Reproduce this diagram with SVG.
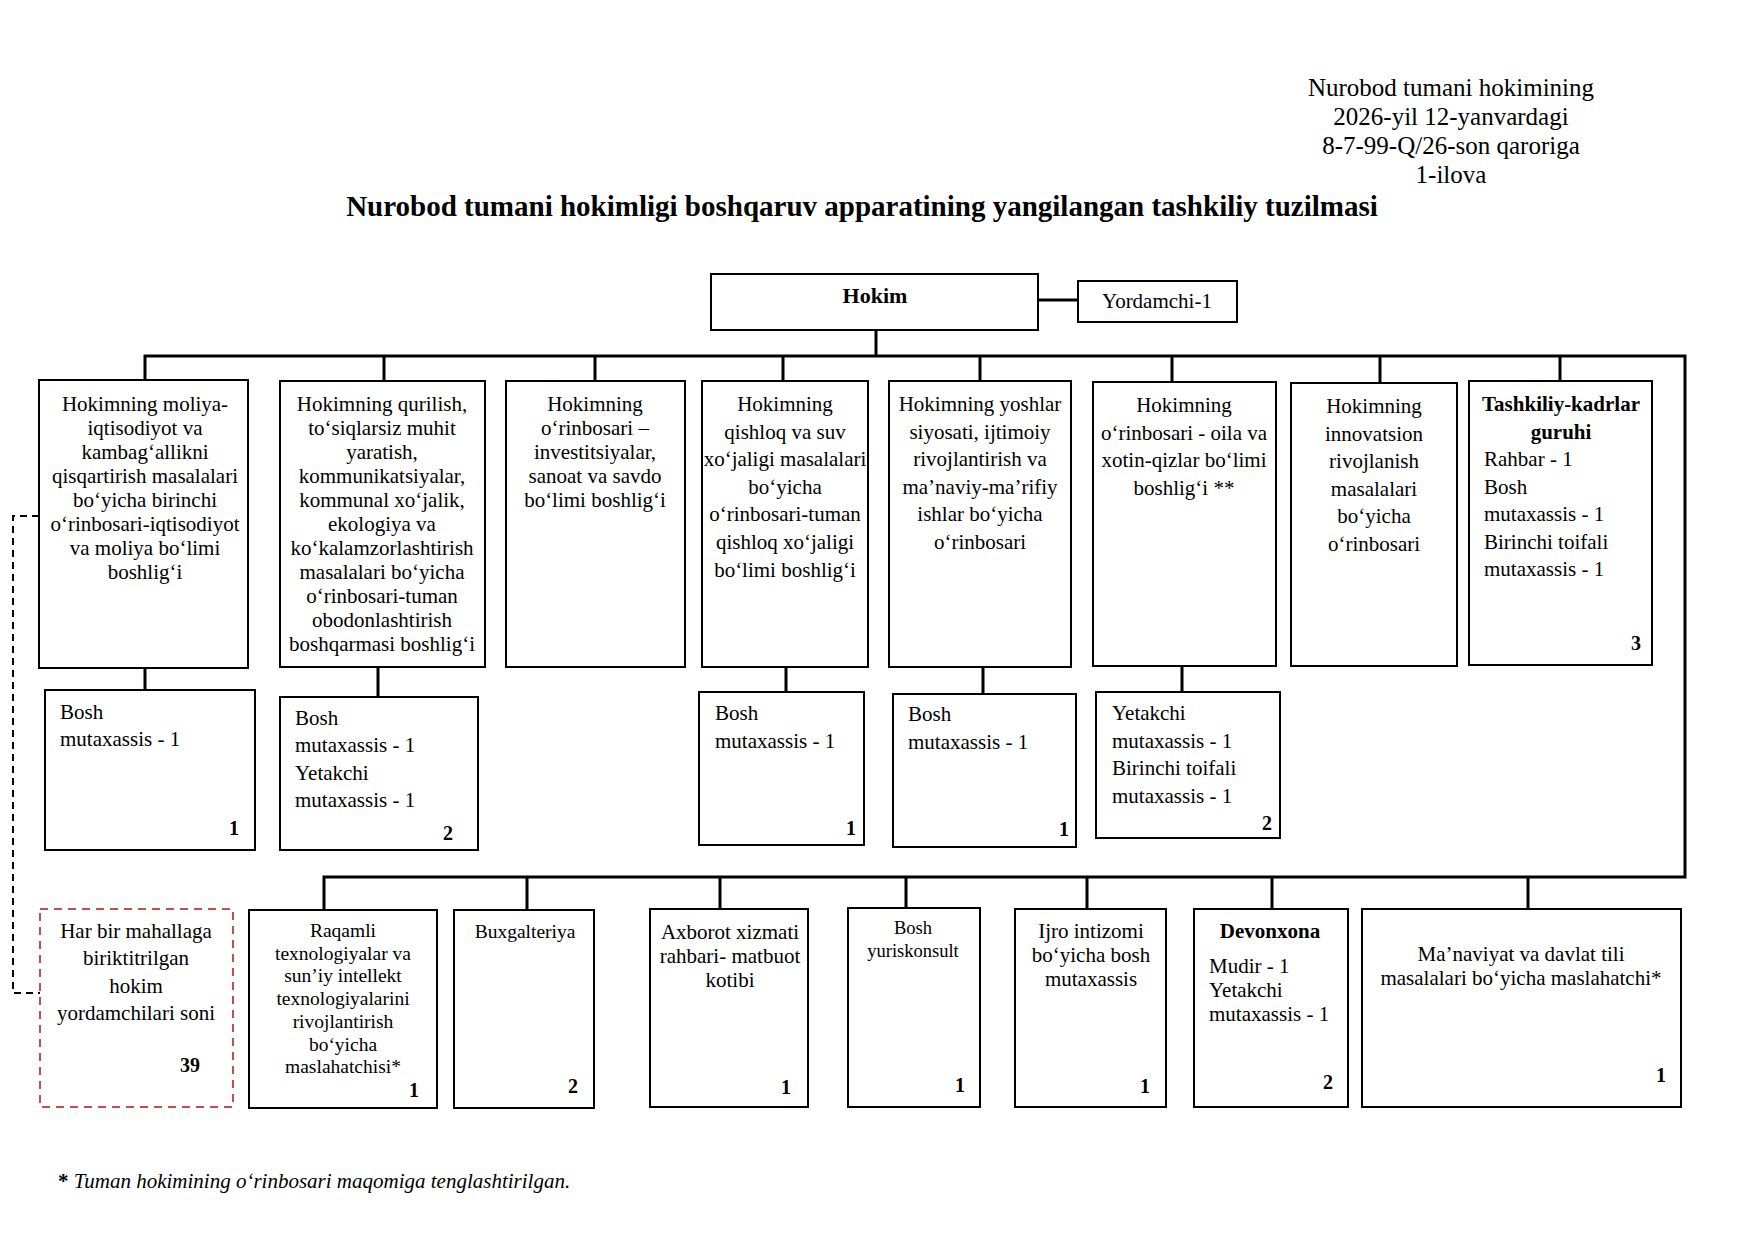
<svg xmlns="http://www.w3.org/2000/svg" width="1754" height="1241" viewBox="0 0 1754 1241">
<style>
.b{fill:#fff;stroke:#000;stroke-width:2}
.c{stroke:#000;stroke-width:3;fill:none}
.t{font-family:"Liberation Serif","Times New Roman",serif;font-size:21px;fill:#000}
.m{text-anchor:middle}
.h{font-size:25px}
.r{font-size:19.5px}
.n{font-family:"Liberation Serif","Times New Roman",serif;font-weight:bold;font-size:20px;text-anchor:end;fill:#000}
.bd{font-weight:bold}
</style>
<rect width="1754" height="1241" fill="#fff"/>
<g id="header">
<text class="t m h" x="1451" y="96">Nurobod tumani hokimining</text>
<text class="t m h" x="1451" y="125">2026-yil 12-yanvardagi</text>
<text class="t m h" x="1451" y="154">8-7-99-Q/26-son qaroriga</text>
<text class="t m h" x="1451" y="183">1-ilova</text>
<text class="t m bd" style="font-size:29px" x="862" y="216">Nurobod tumani hokimligi boshqaruv apparatining yangilangan tashkiliy tuzilmasi</text>
</g>
<g id="connectors">
<path class="c" d="M1038,300H1078"/>
<path class="c" d="M876,330V356"/>
<path class="c" d="M145,380V356H1685V877H324V909"/>
<path class="c" d="M384,356V381M595,356V381M783,356V381M980,356V381M1172,356V382M1380,356V382M1560,356V381"/>
<path class="c" d="M145,668V690M378,667V697M786,667V692M983,667V694M1182,667V692"/>
<path class="c" d="M527,877V909M720,877V909M906,877V908M1087,877V909M1272,877V909M1528,877V909"/>
<path d="M39,516H13V993H40" fill="none" stroke="#000" stroke-width="2" stroke-dasharray="7,5"/>
</g>
<g id="hokim">
<rect class="b" x="711" y="274" width="327" height="56"/>
<text class="t m bd" style="font-size:22px" x="875" y="303">Hokim</text>
</g>
<g id="yordamchi">
<rect class="b" x="1078" y="281" width="159" height="41"/>
<text class="t m" x="1157" y="308">Yordamchi-1</text>
</g>
<g id="top1">
<rect class="b" x="39" y="380" width="209" height="288"/>
<text class="t m" x="145" y="411"><tspan x="145">Hokimning moliya-</tspan><tspan x="145" dy="24">iqtisodiyot va</tspan><tspan x="145" dy="24">kambag‘allikni</tspan><tspan x="145" dy="24">qisqartirish masalalari</tspan><tspan x="145" dy="24">bo‘yicha birinchi</tspan><tspan x="145" dy="24">o‘rinbosari-iqtisodiyot</tspan><tspan x="145" dy="24">va moliya bo‘limi</tspan><tspan x="145" dy="24">boshlig‘i</tspan></text>
</g>
<g id="top2">
<rect class="b" x="280" y="381" width="205" height="286"/>
<text class="t m" x="382" y="411"><tspan x="382">Hokimning qurilish,</tspan><tspan x="382" dy="24">to‘siqlarsiz muhit</tspan><tspan x="382" dy="24">yaratish,</tspan><tspan x="382" dy="24">kommunikatsiyalar,</tspan><tspan x="382" dy="24">kommunal xo‘jalik,</tspan><tspan x="382" dy="24">ekologiya va</tspan><tspan x="382" dy="24">ko‘kalamzorlashtirish</tspan><tspan x="382" dy="24">masalalari bo‘yicha</tspan><tspan x="382" dy="24">o‘rinbosari-tuman</tspan><tspan x="382" dy="24">obodonlashtirish</tspan><tspan x="382" dy="24">boshqarmasi boshlig‘i</tspan></text>
</g>
<g id="top3">
<rect class="b" x="506" y="381" width="179" height="286"/>
<text class="t m" x="595" y="411"><tspan x="595">Hokimning</tspan><tspan x="595" dy="24">o‘rinbosari –</tspan><tspan x="595" dy="24">investitsiyalar,</tspan><tspan x="595" dy="24">sanoat va savdo</tspan><tspan x="595" dy="24">bo‘limi boshlig‘i</tspan></text>
</g>
<g id="top4">
<rect class="b" x="702" y="381" width="166" height="286"/>
<text class="t m" x="785" y="411"><tspan x="785">Hokimning</tspan><tspan x="785" dy="27.6">qishloq va suv</tspan><tspan x="785" dy="27.6">xo‘jaligi masalalari</tspan><tspan x="785" dy="27.6">bo‘yicha</tspan><tspan x="785" dy="27.6">o‘rinbosari-tuman</tspan><tspan x="785" dy="27.6">qishloq xo‘jaligi</tspan><tspan x="785" dy="27.6">bo‘limi boshlig‘i</tspan></text>
</g>
<g id="top5">
<rect class="b" x="889" y="381" width="182" height="286"/>
<text class="t m" x="980" y="411"><tspan x="980">Hokimning yoshlar</tspan><tspan x="980" dy="27.6">siyosati, ijtimoiy</tspan><tspan x="980" dy="27.6">rivojlantirish va</tspan><tspan x="980" dy="27.6">ma’naviy-ma’rifiy</tspan><tspan x="980" dy="27.6">ishlar bo‘yicha</tspan><tspan x="980" dy="27.6">o‘rinbosari</tspan></text>
</g>
<g id="top6">
<rect class="b" x="1093" y="382" width="183" height="284"/>
<text class="t m" x="1184" y="412"><tspan x="1184">Hokimning</tspan><tspan x="1184" dy="27.6">o‘rinbosari - oila va</tspan><tspan x="1184" dy="27.6">xotin-qizlar bo‘limi</tspan><tspan x="1184" dy="27.6">boshlig‘i **</tspan></text>
</g>
<g id="top7">
<rect class="b" x="1291" y="383" width="166" height="283"/>
<text class="t m" x="1374" y="413"><tspan x="1374">Hokimning</tspan><tspan x="1374" dy="27.6">innovatsion</tspan><tspan x="1374" dy="27.6">rivojlanish</tspan><tspan x="1374" dy="27.6">masalalari</tspan><tspan x="1374" dy="27.6">bo‘yicha</tspan><tspan x="1374" dy="27.6">o‘rinbosari</tspan></text>
</g>
<g id="top8">
<rect class="b" x="1469" y="381" width="183" height="284"/>
<text class="t m bd" x="1561" y="411"><tspan x="1561">Tashkiliy-kadrlar</tspan><tspan x="1561" dy="27.6">guruhi</tspan></text>
<text class="t" x="1484" y="466"><tspan x="1484">Rahbar - 1</tspan><tspan x="1484" dy="27.6">Bosh</tspan><tspan x="1484" dy="27.6">mutaxassis - 1</tspan><tspan x="1484" dy="27.6">Birinchi toifali</tspan><tspan x="1484" dy="27.6">mutaxassis - 1</tspan></text>
<text class="n" x="1641" y="650">3</text>
</g>
<g id="sub1">
<rect class="b" x="45" y="690" width="210" height="160"/>
<text class="t" x="60" y="719"><tspan x="60">Bosh</tspan><tspan x="60" dy="27">mutaxassis - 1</tspan></text>
<text class="n" x="239" y="835">1</text>
</g>
<g id="sub2">
<rect class="b" x="280" y="697" width="198" height="153"/>
<text class="t" x="295" y="725"><tspan x="295">Bosh</tspan><tspan x="295" dy="27.4">mutaxassis - 1</tspan><tspan x="295" dy="27.4">Yetakchi</tspan><tspan x="295" dy="27.4">mutaxassis - 1</tspan></text>
<text class="n" x="453" y="840">2</text>
</g>
<g id="sub3">
<rect class="b" x="699" y="692" width="165" height="153"/>
<text class="t" x="715" y="720"><tspan x="715">Bosh</tspan><tspan x="715" dy="28">mutaxassis - 1</tspan></text>
<text class="n" x="856" y="835">1</text>
</g>
<g id="sub4">
<rect class="b" x="893" y="694" width="183" height="153"/>
<text class="t" x="908" y="721"><tspan x="908">Bosh</tspan><tspan x="908" dy="28">mutaxassis - 1</tspan></text>
<text class="n" x="1069" y="836">1</text>
</g>
<g id="sub5">
<rect class="b" x="1096" y="692" width="184" height="146"/>
<text class="t" x="1112" y="720"><tspan x="1112">Yetakchi</tspan><tspan x="1112" dy="27.6">mutaxassis - 1</tspan><tspan x="1112" dy="27.6">Birinchi toifali</tspan><tspan x="1112" dy="27.6">mutaxassis - 1</tspan></text>
<text class="n" x="1272" y="830">2</text>
</g>
<g id="mahalla">
<rect x="40" y="909" width="193" height="198" fill="#fff" stroke="#c0504d" stroke-width="2" stroke-dasharray="8,6"/>
<text class="t m" x="136" y="938"><tspan x="136">Har bir mahallaga</tspan><tspan x="136" dy="27.4">biriktitrilgan</tspan><tspan x="136" dy="27.4">hokim</tspan><tspan x="136" dy="27.4">yordamchilari soni</tspan></text>
<text class="n" x="200" y="1072">39</text>
</g>
<g id="bot1">
<rect class="b" x="249" y="910" width="188" height="198"/>
<text class="t m r" x="343" y="937"><tspan x="343">Raqamli</tspan><tspan x="343" dy="22.7">texnologiyalar va</tspan><tspan x="343" dy="22.7">sun’iy intellekt</tspan><tspan x="343" dy="22.7">texnologiyalarini</tspan><tspan x="343" dy="22.7">rivojlantirish</tspan><tspan x="343" dy="22.7">bo‘yicha</tspan><tspan x="343" dy="22.7">maslahatchisi*</tspan></text>
<text class="n" x="419" y="1097">1</text>
</g>
<g id="bot2">
<rect class="b" x="454" y="910" width="140" height="198"/>
<text class="t m r" x="525" y="938">Buxgalteriya</text>
<text class="n" x="578" y="1093">2</text>
</g>
<g id="bot3">
<rect class="b" x="650" y="909" width="158" height="198"/>
<text class="t m" x="730" y="939"><tspan x="730">Axborot xizmati</tspan><tspan x="730" dy="24">rahbari- matbuot</tspan><tspan x="730" dy="24">kotibi</tspan></text>
<text class="n" x="791" y="1094">1</text>
</g>
<g id="bot4">
<rect class="b" x="848" y="908" width="132" height="199"/>
<text class="t m" style="font-size:18.5px" x="913" y="934"><tspan x="913">Bosh</tspan><tspan x="913" dy="23">yuriskonsult</tspan></text>
<text class="n" x="965" y="1092">1</text>
</g>
<g id="bot5">
<rect class="b" x="1015" y="909" width="151" height="198"/>
<text class="t m" x="1091" y="938"><tspan x="1091">Ijro intizomi</tspan><tspan x="1091" dy="24">bo‘yicha bosh</tspan><tspan x="1091" dy="24">mutaxassis</tspan></text>
<text class="n" x="1150" y="1093">1</text>
</g>
<g id="bot6">
<rect class="b" x="1194" y="909" width="154" height="198"/>
<text class="t m bd" x="1270" y="938">Devonxona</text>
<text class="t" x="1209" y="973"><tspan x="1209">Mudir - 1</tspan><tspan x="1209" dy="24">Yetakchi</tspan><tspan x="1209" dy="24">mutaxassis - 1</tspan></text>
<text class="n" x="1333" y="1089">2</text>
</g>
<g id="bot7">
<rect class="b" x="1362" y="909" width="319" height="198"/>
<text class="t m" x="1521" y="961"><tspan x="1521">Ma’naviyat va davlat tili</tspan><tspan x="1521" dy="24">masalalari bo‘yicha maslahatchi*</tspan></text>
<text class="n" x="1666" y="1082">1</text>
</g>
<g id="footer">
<text class="t" x="58" y="1188"><tspan font-weight="bold">*</tspan><tspan font-style="italic"> Tuman hokimining o‘rinbosari maqomiga tenglashtirilgan.</tspan></text>
</g>
</svg>
